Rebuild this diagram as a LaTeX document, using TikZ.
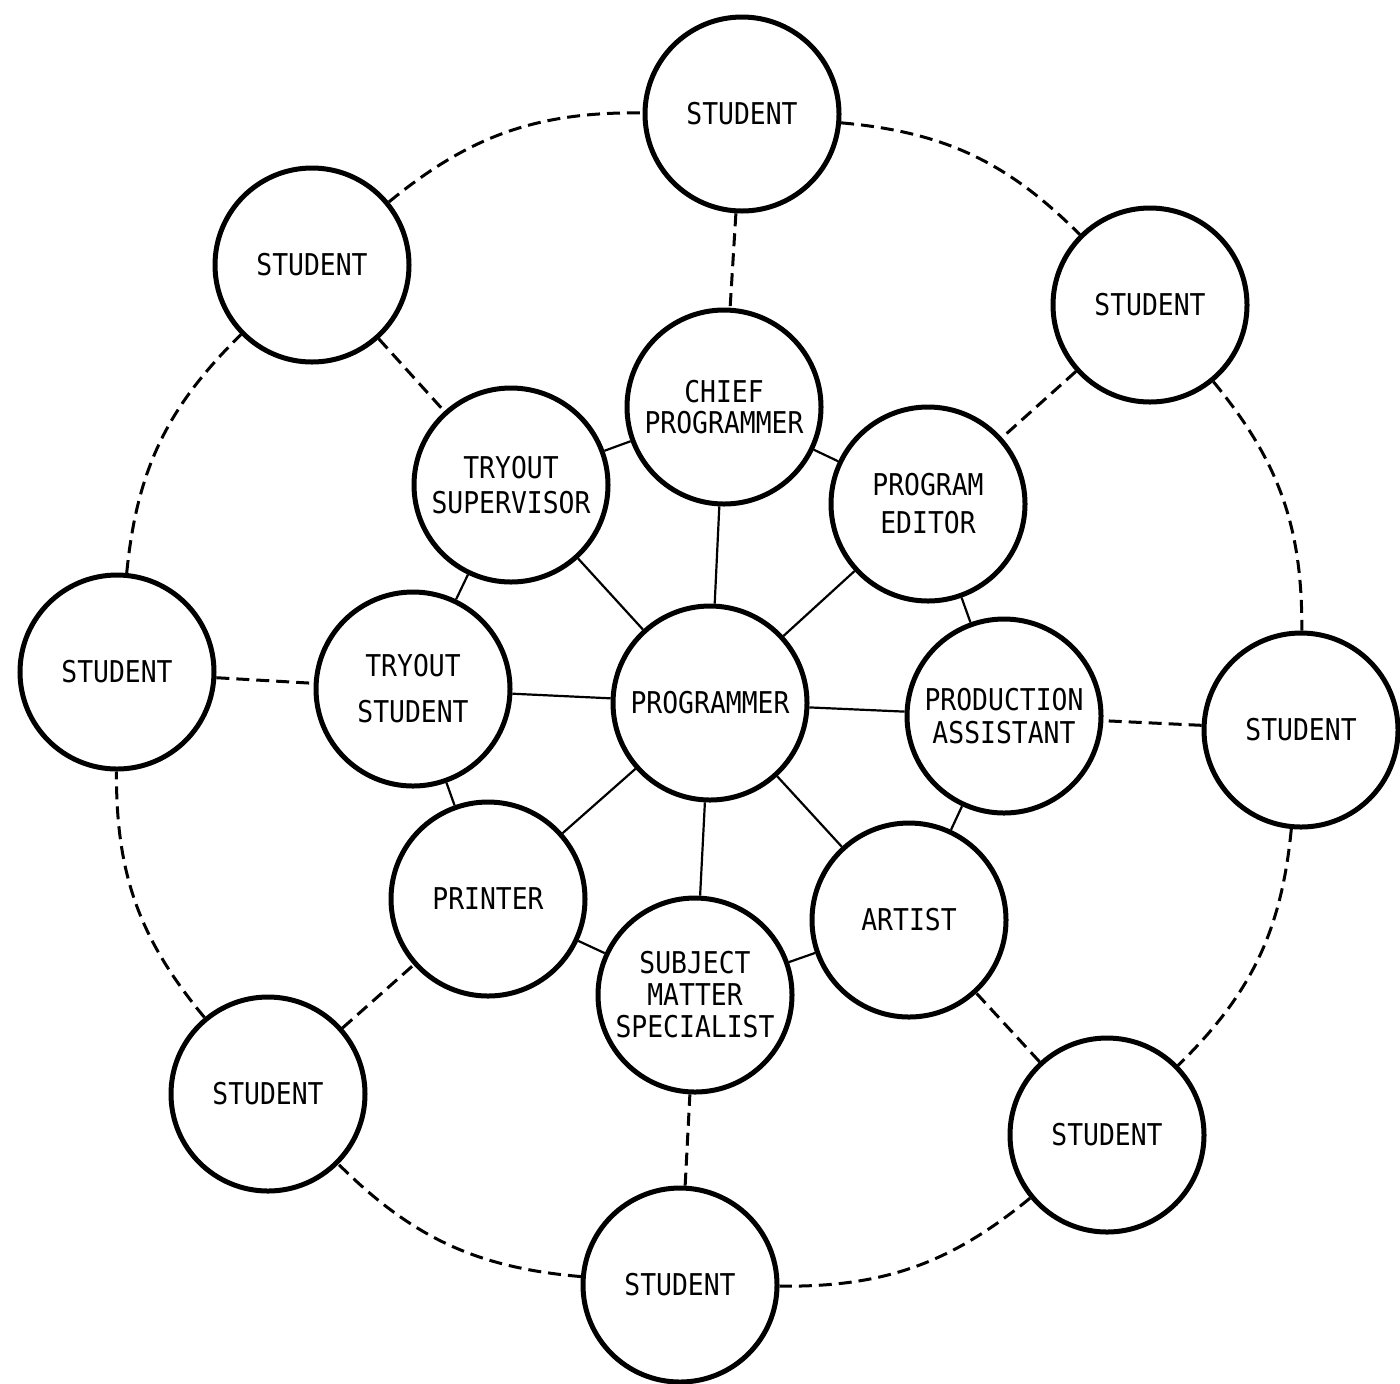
\documentclass[tikz,border=0pt]{standalone}
\usepackage{fontspec}
\newfontfamily\lblfont[FakeStretch=0.88]{DejaVu Sans Mono}
\begin{document}
\begin{tikzpicture}[x=0.5pt,y=-0.5pt,
  blob/.style={circle,draw,line width=2.5pt,minimum size=97pt,inner sep=0pt,
    align=center,font=\lblfont\fontsize{15}{16.5}\selectfont},
  link/.style={line width=1.1pt},
  dlink/.style={line width=1.5pt,dash pattern=on 6.5pt off 3.5pt}]
\useasboundingbox (0,0) rectangle (1400,1383);
\fill[white] (0,0) rectangle (1400,1383);
% inner ring
\node[blob] (prog) at (710,703) {PROGRAMMER};
\node[blob] (chief) at (724,407) {CHIEF\\[-1.2pt]PROGRAMMER};
\node[blob] (editor) at (928,504) {PROGRAM\\[2.5pt]EDITOR};
\node[blob] (prod) at (1004,716) {PRODUCTION\\ASSISTANT};
\node[blob] (artist) at (909,920) {ARTIST};
\node[blob] (sms) at (695,995) {SUBJECT\\[-0.5pt]MATTER\\[-0.5pt]SPECIALIST};
\node[blob] (printer) at (488,899) {PRINTER};
\node[blob] (tstud) at (413,689) {TRYOUT\\[6.5pt]STUDENT};
\node[blob] (tsup) at (511,485) {TRYOUT\\[1pt]SUPERVISOR};
% outer ring
\node[blob] (s1) at (742,114) {STUDENT};
\node[blob] (s2) at (1150,305) {STUDENT};
\node[blob] (s3) at (1301,730) {STUDENT};
\node[blob] (s4) at (1107,1135) {STUDENT};
\node[blob] (s5) at (680,1285) {STUDENT};
\node[blob] (s6) at (268,1094) {STUDENT};
\node[blob] (s7) at (117,672) {STUDENT};
\node[blob] (s8) at (312,265) {STUDENT};
% spokes
\foreach \n in {chief,editor,prod,artist,sms,printer,tstud,tsup}
  \draw[link] (prog) -- (\n);
% inner ring links
\draw[link] (chief) -- (editor);
\draw[link] (editor) -- (prod);
\draw[link] (prod) -- (artist);
\draw[link] (artist) -- (sms);
\draw[link] (sms) -- (printer);
\draw[link] (printer) -- (tstud);
\draw[link] (tstud) -- (tsup);
\draw[link] (tsup) -- (chief);
% dashed spokes to students
\draw[dlink] (s1) -- (chief);
\draw[dlink] (s2) -- (editor);
\draw[dlink] (s3) -- (prod);
\draw[dlink] (s4) -- (artist);
\draw[dlink] (s5) -- (sms);
\draw[dlink] (s6) -- (printer);
\draw[dlink] (s7) -- (tstud);
\draw[dlink] (s8) -- (tsup);
% outer dashed ring
\draw[dlink] (s1) to[bend left=20] (s2);
\draw[dlink] (s2) to[bend left=20] (s3);
\draw[dlink] (s3) to[bend left=20] (s4);
\draw[dlink] (s4) to[bend left=20] (s5);
\draw[dlink] (s5) to[bend left=20] (s6);
\draw[dlink] (s6) to[bend left=20] (s7);
\draw[dlink] (s7) to[bend left=20] (s8);
\draw[dlink] (s8) to[bend left=20] (s1);
\end{tikzpicture}
\end{document}
